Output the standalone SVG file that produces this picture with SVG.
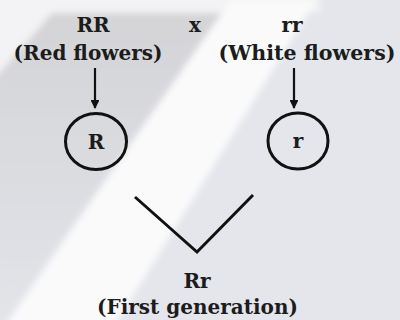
<svg xmlns="http://www.w3.org/2000/svg" width="400" height="320" viewBox="0 0 400 320">
<style>
.t{font-family:"DejaVu Serif","Liberation Serif",serif;font-weight:bold;font-size:20px;fill:#1c1c1c;text-anchor:middle}
.ln{stroke:#111;stroke-width:3;fill:none}
.ar{stroke:#111;stroke-width:2.2;fill:none}
</style>
<defs>
<marker id="ah" viewBox="0 0 10 10" refX="9" refY="5" markerWidth="4" markerHeight="4" orient="auto" markerUnits="strokeWidth">
<path d="M0,0 L10,5 L0,10 Z" fill="#111"/>
</marker>
<filter id="blur" x="-20%" y="-20%" width="140%" height="140%"><feGaussianBlur stdDeviation="3"/></filter>
<linearGradient id="gg" x1="0" y1="0" x2="0" y2="1">
<stop offset="0" stop-color="#d4d4d7"/>
<stop offset="0.55" stop-color="#dcdde1"/>
<stop offset="1" stop-color="#e3e5e9"/>
</linearGradient>
</defs>
<g id="background">
<rect width="400" height="320" fill="#e4e6ec"/>
<g filter="url(#blur)">
<rect x="-10" y="-10" width="330" height="23" fill="#f3f3f5"/>
<polygon points="-10,-10 60,-10 52,13 -10,96" fill="#f3f3f5"/>
<polygon points="52,13 222,13 -5,335 -10,84" fill="url(#gg)"/>
<polygon points="231,0 316,0 112,330 2,330" fill="#fafafb"/>
</g>
</g>
<g id="parent-RR">
<text class="t" x="93" y="32">RR</text>
<text class="t" x="88" y="60">(Red flowers)</text>
</g>
<g id="cross">
<text class="t" x="195" y="32">x</text>
</g>
<g id="parent-rr">
<text class="t" x="292" y="32">rr</text>
<text class="t" x="307" y="60" textLength="177" lengthAdjust="spacingAndGlyphs">(White flowers)</text>
</g>
<g id="gamete-R">
<ellipse cx="96" cy="141.5" rx="30.5" ry="28" class="ln"/>
<text class="t" x="96" y="149">R</text>
</g>
<g id="gamete-r">
<ellipse cx="298" cy="141" rx="30" ry="28" class="ln"/>
<text class="t" x="298" y="148">r</text>
</g>
<g id="offspring">
<text class="t" x="197" y="288">Rr</text>
<text class="t" x="197.5" y="314">(First generation)</text>
</g>
<g id="connectors">
<line x1="95" y1="68" x2="95" y2="108" class="ar" marker-end="url(#ah)"/>
<line x1="294" y1="68" x2="294" y2="108" class="ar" marker-end="url(#ah)"/>
<polyline points="135,197 197,252 253,195" class="ln"/>
</g>
</svg>
